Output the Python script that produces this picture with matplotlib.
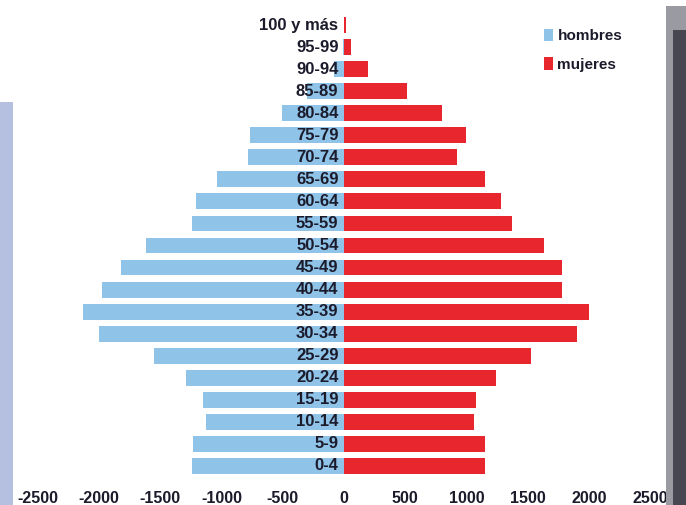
import numpy as np
import matplotlib.pyplot as plt
from matplotlib.patches import Rectangle

# grupos de edad, de abajo (0-4) hacia arriba (100 y más)
grupos = ['0-4', '5-9', '10-14', '15-19', '20-24', '25-29', '30-34', '35-39',
          '40-44', '45-49', '50-54', '55-59', '60-64', '65-69', '70-74',
          '75-79', '80-84', '85-89', '90-94', '95-99', '100 y más']
hombres = [1245, 1230, 1125, 1150, 1290, 1555, 2005, 2130, 1980, 1820,
           1620, 1245, 1210, 1040, 785, 765, 510, 300, 80, 10, 3]
mujeres = [1155, 1155, 1065, 1080, 1240, 1525, 1900, 2000, 1780, 1785,
           1630, 1375, 1280, 1155, 925, 1000, 800, 515, 200, 60, 15]
ticks = [-2500, -2000, -1500, -1000, -500, 0, 500, 1000, 1500, 2000, 2500]

azul = '#8fc3e8'
rojo = '#e8262d'
texto = '#1b1b2b'

plt.rcParams['font.family'] = ['Liberation Sans', 'DejaVu Sans']

fig = plt.figure(figsize=(6.86, 5.05), dpi=100)
fig.patch.set_facecolor('white')

# fondo: panel lila a la izquierda y sombra a la derecha
fig.patches.append(Rectangle((0, 0), 13 / 686, 1 - 102 / 505, transform=fig.transFigure,
                             facecolor='#b5bfdf', edgecolor='none', zorder=0))
fig.patches.append(Rectangle((666 / 686, 0), 20 / 686, 1 - 6 / 505, transform=fig.transFigure,
                             facecolor='#9a9aa2', edgecolor='none', zorder=0))
fig.patches.append(Rectangle((673 / 686, 0), 13 / 686, 1 - 30 / 505, transform=fig.transFigure,
                             facecolor='#474752', edgecolor='none', zorder=0))

ax = fig.add_axes([38 / 686, 1 - 477 / 505, 612 / 686, 463 / 505])
ax.set_facecolor('none')

y = np.arange(len(grupos))
ax.barh(y, -np.array(hombres), height=0.72, color=azul, label='hombres', zorder=2)
ax.barh(y, mujeres, height=0.72, color=rojo, label='mujeres', zorder=2)

for yi, g in zip(y, grupos):
    ax.text(-45, yi, g, ha='right', va='center', fontsize=12, fontweight='bold',
            color=texto, zorder=3)

ax.set_xlim(-2500, 2500)
ax.set_ylim(-0.5, len(grupos) - 0.5)
ax.set_xticks(ticks)
ax.set_xticklabels([str(t) for t in ticks], fontsize=11.5, fontweight='bold', color=texto)
ax.set_yticks([])
ax.tick_params(axis='x', length=0, pad=10)
for s in ax.spines.values():
    s.set_visible(False)

leg = ax.legend(loc='upper left', bbox_to_anchor=(530 / 686, 1 - 15 / 505),
                bbox_transform=fig.transFigure, frameon=False,
                handlelength=0.6, handleheight=0.9, handletextpad=0.3,
                labelspacing=0.9, prop={'weight': 'bold', 'size': 11})
for t in leg.get_texts():
    t.set_color(texto)

fig.savefig('out.png', dpi=100)
